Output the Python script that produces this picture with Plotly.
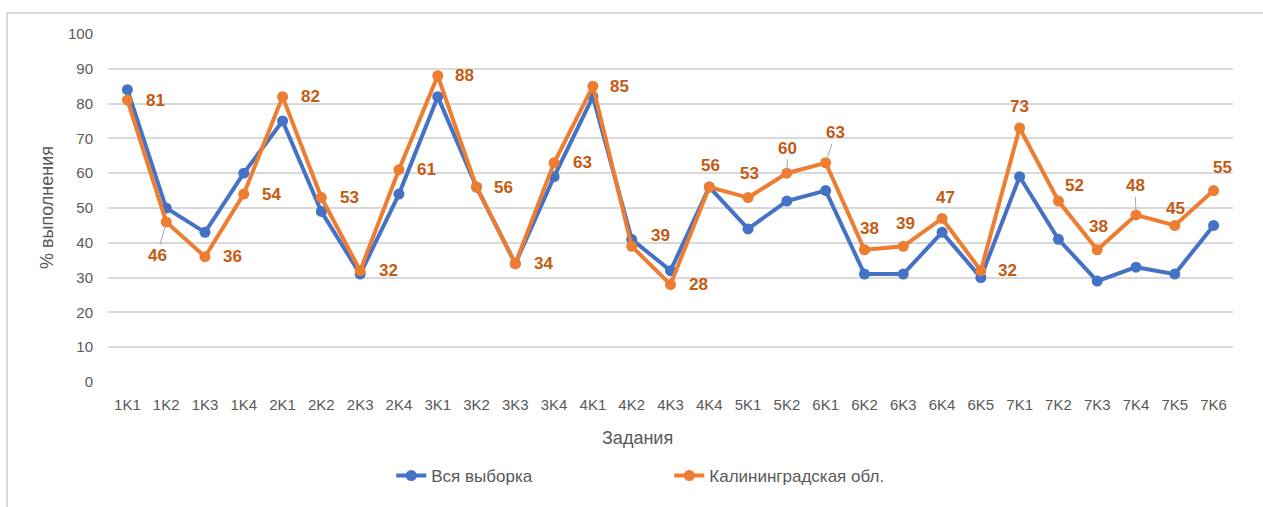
import plotly.graph_objects as go

categories = ["1K1", "1K2", "1K3", "1K4", "2K1", "2K2", "2K3", "2K4", "3K1", "3K2",
              "3K3", "3K4", "4K1", "4K2", "4K3", "4K4", "5K1", "5K2", "6K1", "6K2",
              "6K3", "6K4", "6K5", "7K1", "7K2", "7K3", "7K4", "7K5", "7K6"]
all_sample = [84, 50, 43, 60, 75, 49, 31, 54, 82, 56, 34, 59, 82, 41, 32, 56, 44, 52,
              55, 31, 31, 43, 30, 59, 41, 29, 33, 31, 45]
kaliningrad = [81, 46, 36, 54, 82, 53, 32, 61, 88, 56, 34, 63, 85, 39, 28, 56, 53, 60,
               63, 38, 39, 47, 32, 73, 52, 38, 48, 45, 55]
y_ticks = [0, 10, 20, 30, 40, 50, 60, 70, 80, 90, 100]

# label placement (pixel offsets dx, dy; dy positive = down) and leader flag
label_style = [(28, 0, 0), (-9, 34, 1), (28, 0, 0), (28, 0, 0), (28, 0, 0), (28, 0, 0),
               (28, 0, 0), (28, 0, 0), (27, 0, 0), (27, 0, 0), (28, 0, 0), (28, 0, 0),
               (27, 0, 0), (29, -11, 0), (28, 0, 0), (1, -22, 0), (1, -24, 0),
               (1, -25, 1), (10, -30, 1), (5, -21, 0), (2, -23, 0), (3, -21, 0),
               (27, 0, 0), (0, -21, 0), (16, -16, 0), (1, -23, 0), (-1, -29, 1),
               (1, -17, 0), (9, -23, 0)]

BLUE = "#4472C4"
ORANGE = "#ED7D31"
LABEL = "#C55A11"
GRID = "#D9D9D9"
TXT = "#595959"
FONT = "Liberation Sans"

fig = go.Figure()
fig.add_trace(go.Scatter(x=categories, y=all_sample, mode="lines+markers",
                         name="Вся выборка", line=dict(color=BLUE, width=4),
                         marker=dict(color=BLUE, size=11)))
fig.add_trace(go.Scatter(x=categories, y=kaliningrad, mode="lines+markers",
                         name="Калининградская обл.", line=dict(color=ORANGE, width=4),
                         marker=dict(color=ORANGE, size=11)))

annotations = []
for c, v, (dx, dy, lead) in zip(categories, kaliningrad, label_style):
    if lead:
        annotations.append(dict(x=c, y=v, xref="x", yref="y", text=f"<b>{v}</b>",
                                showarrow=True, arrowhead=0, arrowwidth=1,
                                arrowcolor="#A6A6A6", ax=dx, ay=dy, standoff=3,
                                font=dict(family=FONT, size=17, color=LABEL)))
    else:
        annotations.append(dict(x=c, y=v, xref="x", yref="y", text=f"<b>{v}</b>",
                                showarrow=False, xshift=dx, yshift=-dy,
                                font=dict(family=FONT, size=17, color=LABEL)))

# axis titles
annotations.append(dict(text="Задания", xref="paper", yref="paper", x=0.5, y=-0.16,
                        xanchor="center", yanchor="middle", showarrow=False, xshift=-33,
                        font=dict(family=FONT, size=18, color=TXT)))
annotations.append(dict(text="% выполнения", xref="paper", yref="paper", x=0, y=0.5,
                        xanchor="center", yanchor="middle", showarrow=False, xshift=-61,
                        textangle=-90, font=dict(family=FONT, size=18, color=TXT)))

fig.update_layout(
    width=1263, height=507,
    margin=dict(l=108, r=30, t=34, b=125),
    paper_bgcolor="white", plot_bgcolor="white",
    font=dict(family=FONT, size=15, color=TXT),
    annotations=annotations,
    showlegend=True,
    legend=dict(orientation="h", x=0.2518, xanchor="left", y=-0.27, yanchor="middle",
                font=dict(family=FONT, size=17, color=TXT),
                entrywidth=233, entrywidthmode="pixels", traceorder="normal"),
    shapes=[dict(type="rect", xref="paper", yref="paper", x0=-0.0898, x1=1.06,
                 y0=-0.38, y1=1.06, line=dict(color=GRID, width=2), layer="below")],
)
fig.update_xaxes(type="category", range=[-0.5, len(categories) - 0.5],
                 showgrid=False, showline=False, zeroline=False,
                 ticks="", ticklabelstandoff=12, automargin=False,
                 tickfont=dict(family=FONT, size=15, color=TXT))
fig.update_yaxes(range=[0, 100], tickvals=y_ticks, showgrid=True, gridcolor=GRID,
                 gridwidth=1.5, zeroline=False, showline=False, ticks="",
                 ticklabelstandoff=14, automargin=False,
                 tickfont=dict(family=FONT, size=15, color=TXT))

fig.write_html("out.html", config={"displayModeBar": False},
               post_script="document.body.style.margin='0';")
